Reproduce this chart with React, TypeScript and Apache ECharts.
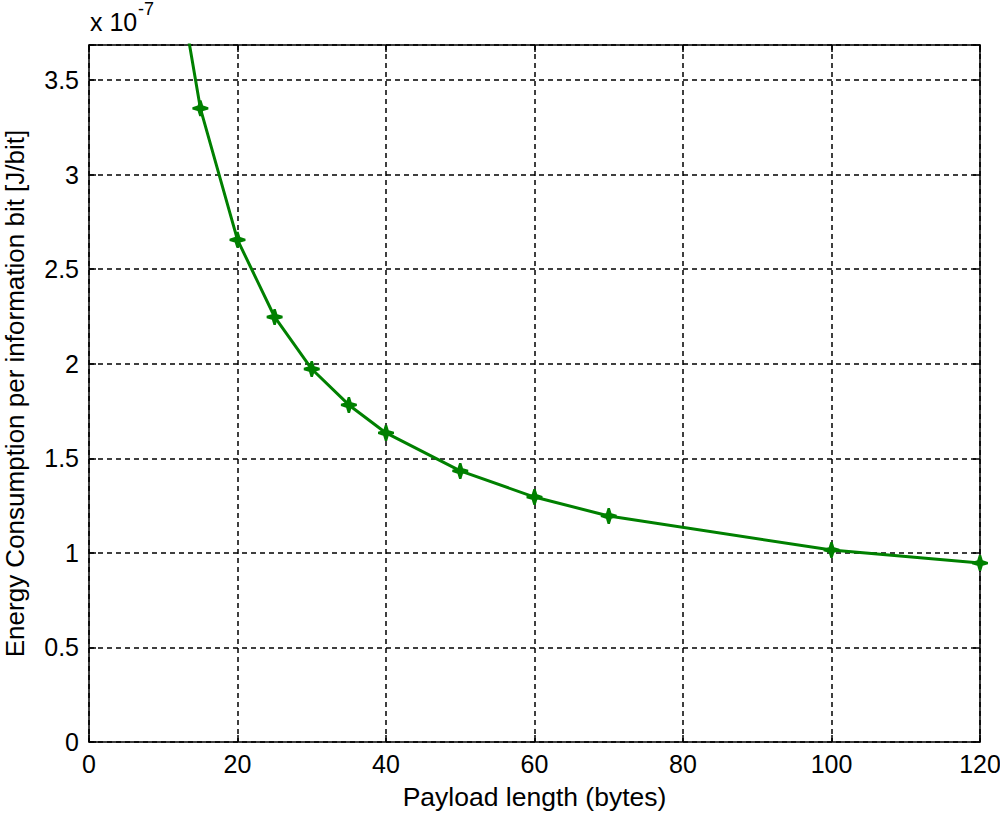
import React, { useEffect, useRef } from "react";
import * as echarts from "echarts";

const payload = [10, 15, 20, 25, 30, 35, 40, 50, 60, 70, 100, 120];
const energy = [4.5, 3.35, 2.655, 2.247, 1.972, 1.782, 1.634, 1.433, 1.295, 1.195, 1.015, 0.946];
const xTicks = [0, 20, 40, 60, 80, 100, 120];
const yTicks = [0, 0.5, 1, 1.5, 2, 2.5, 3, 3.5];
const xTitle = "Payload length (bytes)";
const yTitle = "Energy Consumption per information bit [J/bit]";

const FONT = "Liberation Sans";
const markerPath =
  "path://M6,0 L8,0 L9.4,4.6 L14,6 L14,8 L9.4,9.4 L8,14 L6,14 L4.6,9.4 L0,8 L0,6 L4.6,4.6 Z";

export default function App() {
  const ref = useRef<HTMLDivElement>(null);
  useEffect(() => {
    if (!ref.current) return;
    const chart = echarts.init(ref.current, undefined, { renderer: "svg" });
    const axisText = { color: "#000", fontFamily: FONT, fontSize: 25 };
    const frame = { show: true, onZero: false, lineStyle: { color: "#000", width: 1.5 } };
    const ticks = { show: true, inside: true, length: 7, lineStyle: { color: "#000", width: 1.5 } };
    chart.setOption({
      animation: false,
      backgroundColor: "#fff",
      grid: {
        left: 89,
        right: 20,
        top: 45,
        bottom: 73,
        show: false,
        containLabel: false,
        outerBoundsMode: "none",
      },
      xAxis: [
        {
          type: "value",
          min: 0,
          max: 120,
          interval: 20,
          name: xTitle,
          nameLocation: "middle",
          nameGap: 41,
          nameTextStyle: { color: "#000", fontFamily: FONT, fontSize: 26.5 },
          axisLine: frame,
          axisTick: ticks,
          axisLabel: {
            ...axisText,
            margin: 9,
            formatter: (v: number) => (xTicks.includes(v) ? String(v) : ""),
          },
          splitLine: { show: true, lineStyle: { color: "#000", type: [5, 4], width: 1.5 } },
        },
        {
          type: "value",
          position: "top",
          min: 0,
          max: 120,
          interval: 20,
          axisLine: frame,
          axisTick: ticks,
          axisLabel: { show: false },
          splitLine: { show: false },
        },
      ],
      yAxis: [
        {
          type: "value",
          min: 0,
          max: 3.685,
          interval: 0.5,
          name: yTitle,
          nameLocation: "middle",
          nameGap: 61,
          nameTextStyle: { color: "#000", fontFamily: FONT, fontSize: 26 },
          axisLine: frame,
          axisTick: ticks,
          axisLabel: {
            ...axisText,
            margin: 10,
            formatter: (v: number) => (yTicks.some((t) => Math.abs(t - v) < 1e-9) ? String(v) : ""),
          },
          splitLine: { show: true, lineStyle: { color: "#000", type: [5, 4], width: 1.5 } },
        },
        {
          type: "value",
          position: "right",
          min: 0,
          max: 3.685,
          interval: 0.5,
          axisLine: frame,
          axisTick: ticks,
          axisLabel: { show: false },
          splitLine: { show: false },
        },
      ],
      series: [
        {
          type: "line",
          data: payload.map((x, i) => [x, energy[i]]),
          clip: true,
          smooth: false,
          symbol: markerPath,
          symbolSize: 16,
          showSymbol: true,
          lineStyle: { color: "#008000", width: 3 },
          itemStyle: { color: "#008000", borderWidth: 0 },
          z: 5,
        },
      ],
      graphic: [
        {
          type: "text",
          x: 90,
          y: 22,
          style: { text: "x 10", fill: "#000", font: `25px "${FONT}"`, verticalAlign: "middle" },
        },
        {
          type: "text",
          x: 138,
          y: 9,
          style: { text: "-7", fill: "#000", font: `18px "${FONT}"`, verticalAlign: "middle" },
        },
      ],
    });
    return () => chart.dispose();
  }, []);
  return (
    <div
      ref={ref}
      style={{ position: "fixed", left: 0, top: 0, width: 1000, height: 815, background: "#fff" }}
    />
  );
}
